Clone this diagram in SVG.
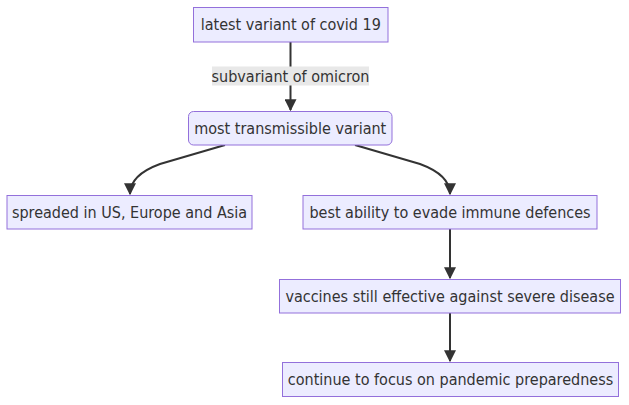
<svg xmlns="http://www.w3.org/2000/svg" width="629" height="405" viewBox="0 0 629 405">
<style>
.node rect{fill:#ECECFF;stroke:#9370DB;stroke-width:1px;}
text{font-family:"DejaVu Sans Condensed","DejaVu Sans",sans-serif;font-stretch:condensed;font-size:16px;fill:#333333;text-anchor:middle;dominant-baseline:central;}
.edge{fill:none;stroke:#333333;stroke-width:2px;}
</style>
<defs>
<marker id="arrow" viewBox="0 0 10 10" refX="9" refY="5" markerUnits="userSpaceOnUse" markerWidth="12" markerHeight="12" orient="auto">
<path d="M0,0 L10,5 L0,10 z" fill="#333333"/>
</marker>
</defs>
<rect width="629" height="405" fill="#ffffff"/>
<g id="edges">
<path class="edge" d="M290.5,42 L290.5,110" marker-end="url(#arrow)"/>
<path class="edge" d="M225,145 L160,164 Q130,175 130,194" marker-end="url(#arrow)"/>
<path class="edge" d="M355,145 L420,164 Q450,175 450,194" marker-end="url(#arrow)"/>
<path class="edge" d="M450,229 L450,278" marker-end="url(#arrow)"/>
<path class="edge" d="M450,313 L450,361" marker-end="url(#arrow)"/>
<rect x="212" y="66.5" width="157" height="19" fill="#e8e8e8"/>
<text x="290.5" y="76">subvariant of omicron</text>
</g>
<g id="A" class="node"><rect x="193.5" y="7.5" width="194.5" height="34.5"/><text x="290.75" y="24.5">latest variant of covid 19</text></g>
<g id="B" class="node"><rect x="188.5" y="111.5" width="203.5" height="33.5" rx="5" ry="5"/><text x="290.25" y="128">most transmissible variant</text></g>
<g id="C" class="node"><rect x="7" y="195.5" width="245" height="33.5"/><text x="129.5" y="212">spreaded in US, Europe and Asia</text></g>
<g id="D" class="node"><rect x="303" y="195.5" width="294" height="33.5"/><text x="450" y="212">best ability to evade immune defences</text></g>
<g id="E" class="node"><rect x="279.5" y="279.5" width="341" height="33.5"/><text x="450" y="296">vaccines still effective against severe disease</text></g>
<g id="F" class="node"><rect x="282.5" y="362.5" width="336" height="34"/><text x="450.5" y="379.5">continue to focus on pandemic preparedness</text></g>
</svg>
